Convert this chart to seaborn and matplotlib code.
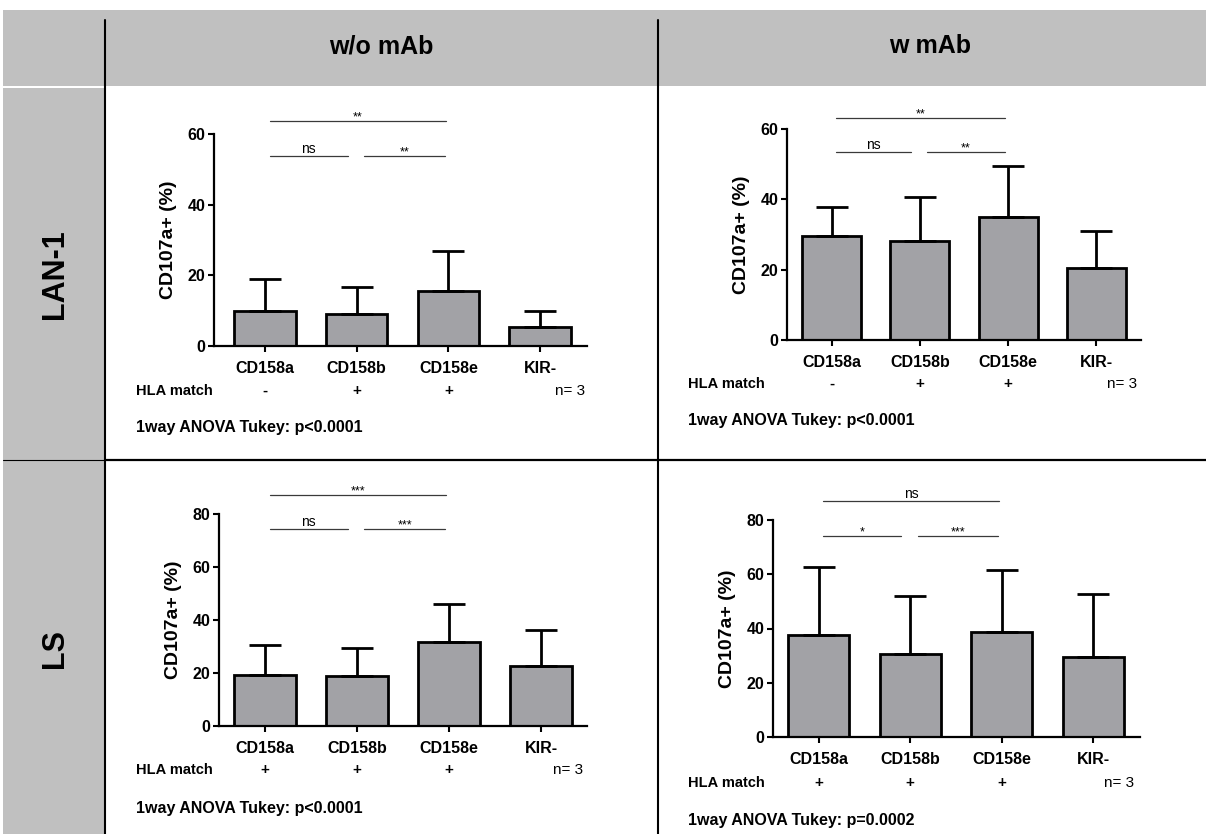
import numpy as np
import pandas as pd
import matplotlib
matplotlib.use("Agg")
import matplotlib.pyplot as plt
import seaborn as sns
from matplotlib.transforms import blended_transform_factory
from matplotlib.patches import Rectangle
from matplotlib.lines import Line2D

# ---------------- data ----------------
categories = ["CD158a", "CD158b", "CD158e", "KIR-"]
col_titles = ["w/o mAb", "w mAb"]
row_titles = ["LAN-1", "LS"]

lan1_wo_mean = [9.8, 9.0, 15.7, 5.5]
lan1_wo_sd = [9.2, 7.8, 11.3, 4.4]
lan1_w_mean = [29.5, 28.2, 34.9, 20.4]
lan1_w_sd = [8.4, 12.6, 14.6, 10.5]
ls_wo_mean = [19.4, 19.0, 31.6, 22.8]
ls_wo_sd = [11.3, 10.4, 14.4, 13.4]
ls_w_mean = [37.6, 30.7, 38.6, 29.5]
ls_w_sd = [24.9, 21.4, 23.1, 23.1]

lan1_hla = ["-", "+", "+"]
ls_hla = ["+", "+", "+"]

# significance labels: (CD158a vs CD158e, CD158a vs CD158b, CD158b vs CD158e)
lan1_wo_sig = ["**", "ns", "**"]
lan1_w_sig = ["**", "ns", "**"]
ls_wo_sig = ["***", "ns", "***"]
ls_w_sig = ["ns", "*", "***"]

anova_texts = ["1way ANOVA Tukey: p<0.0001", "1way ANOVA Tukey: p<0.0001",
               "1way ANOVA Tukey: p<0.0001", "1way ANOVA Tukey: p=0.0002"]
n_text = "n= 3"

# ---------------- style ----------------
sns.set_style("ticks")
plt.rcParams["font.family"] = ["Liberation Sans", "DejaVu Sans"]
plt.rcParams["text.color"] = "black"
plt.rcParams["axes.labelcolor"] = "black"
plt.rcParams["xtick.color"] = "black"
plt.rcParams["ytick.color"] = "black"
plt.rcParams["axes.edgecolor"] = "black"

W, H = 1206, 834
fig = plt.figure(figsize=(W / 100, H / 100), dpi=100)


def fx(x):
    return x / W


def fy(y):
    return 1 - y / H


GRAY_BG = "#c0c0c0"
BAR_GRAY = "#a2a2a6"

# table background
fig.add_artist(Rectangle((fx(3), fy(86)), fx(1206) - fx(3), fy(10) - fy(86),
                         transform=fig.transFigure, facecolor=GRAY_BG,
                         edgecolor="none", zorder=0))
fig.add_artist(Rectangle((fx(3), fy(834)), fx(104) - fx(3), fy(88) - fy(834),
                         transform=fig.transFigure, facecolor=GRAY_BG,
                         edgecolor="none", zorder=0))
# grid lines
for xv in (105, 658):
    fig.add_artist(Line2D([fx(xv), fx(xv)], [fy(20), fy(834)],
                          transform=fig.transFigure, color="black", lw=1.5))
fig.add_artist(Line2D([fx(3), fx(105)], [fy(460), fy(460)],
                      transform=fig.transFigure, color="black", lw=0.8))
fig.add_artist(Line2D([fx(105), fx(1206)], [fy(460), fy(460)],
                      transform=fig.transFigure, color="black", lw=1.6))

# headers
fig.text(fx(381), fy(46), col_titles[0], ha="center", va="center",
         fontsize=18, fontweight="bold", color="black")
fig.text(fx(930), fy(46), col_titles[1], ha="center", va="center",
         fontsize=18, fontweight="bold", color="black")
fig.text(fx(55), fy(274), row_titles[0], ha="center", va="center",
         rotation=90, fontsize=22, fontweight="bold", color="black")
fig.text(fx(55), fy(648), row_titles[1], ha="center", va="center",
         rotation=90, fontsize=22, fontweight="bold", color="black")

panels = [
    dict(rect=(214, 134, 587, 346), xlim=(-0.556, 3.51), ymax=60,
         mean=lan1_wo_mean, sd=lan1_wo_sd, hla=lan1_hla, sig=lan1_wo_sig,
         sig_y=(63.7, 53.7), hla_y=391, anova_y=427, text_x=136, n_x=585,
         anova=anova_texts[0]),
    dict(rect=(787, 129, 1141, 340), xlim=(-0.51, 3.51), ymax=60,
         mean=lan1_w_mean, sd=lan1_w_sd, hla=lan1_hla, sig=lan1_w_sig,
         sig_y=(63.0, 53.4), hla_y=384, anova_y=420, text_x=688, n_x=1137,
         anova=anova_texts[1]),
    dict(rect=(219, 514, 587, 726), xlim=(-0.5, 3.5), ymax=80,
         mean=ls_wo_mean, sd=ls_wo_sd, hla=ls_hla, sig=ls_wo_sig,
         sig_y=(87.0, 74.3), hla_y=770, anova_y=808, text_x=136, n_x=583,
         anova=anova_texts[2]),
    dict(rect=(773, 520, 1140, 737), xlim=(-0.5, 3.51), ymax=80,
         mean=ls_w_mean, sd=ls_w_sd, hla=ls_hla, sig=ls_w_sig,
         sig_y=(87.0, 74.2), hla_y=783, anova_y=821, text_x=688, n_x=1134,
         anova=anova_texts[3]),
]

for p in panels:
    l, t, r, b = p["rect"]
    ax = fig.add_axes([fx(l), fy(b), fx(r) - fx(l), fy(t) - fy(b)])
    ax.set_facecolor("none")
    df = pd.DataFrame({"cat": categories, "val": p["mean"]})
    sns.barplot(data=df, x="cat", y="val", ax=ax, color=BAR_GRAY,
                saturation=1, width=0.67, edgecolor="black", linewidth=2,
                errorbar=None, zorder=2)
    ax.errorbar(np.arange(len(categories)), p["mean"],
                yerr=[np.zeros(len(categories)), p["sd"]], fmt="none",
                ecolor="black", elinewidth=2, capsize=11.5, capthick=2,
                zorder=3)
    ax.set_xlim(*p["xlim"])
    ax.set_ylim(0, p["ymax"])
    yt = np.arange(0, p["ymax"] + 1, 20)
    ax.set_yticks(yt, labels=[str(v) for v in yt], fontweight="bold",
                  fontsize=11.5)
    ax.set_xticks(range(len(categories)), labels=categories,
                  fontweight="bold", fontsize=11.5)
    ax.tick_params(axis="both", direction="out", length=4, width=1.5,
                   color="black", labelcolor="black")
    ax.tick_params(axis="x", pad=7)
    ax.tick_params(axis="y", pad=2)
    ax.set_xlabel("")
    ax.set_ylabel("CD107a+ (%)", fontsize=14, fontweight="bold", labelpad=8,
                  color="black")
    for s in ("top", "right"):
        ax.spines[s].set_visible(False)
    for s in ("left", "bottom"):
        ax.spines[s].set_linewidth(1.6)
        ax.spines[s].set_color("black")
    ax.spines["left"].set_bounds(0, p["ymax"])

    # significance brackets
    top_y, low_y = p["sig_y"]
    spans = [(0.05, 1.97, top_y), (0.05, 0.9, low_y), (1.08, 1.96, low_y)]
    for lab, (x0, x1, yy) in zip(p["sig"], spans):
        ax.plot([x0, x1], [yy, yy], color="#3a3a3a", lw=0.9, clip_on=False)
        if lab == "ns":
            ax.annotate(lab, xy=((x0 + x1) / 2, yy), xytext=(0, 2.0),
                        textcoords="offset points", ha="center",
                        va="baseline", fontsize=10, color="black",
                        annotation_clip=False)
        else:
            ax.annotate(lab, xy=((x0 + x1) / 2, yy), xytext=(0, 0.5),
                        textcoords="offset points", ha="center",
                        va="baseline", fontsize=9, color="black",
                        annotation_clip=False)

    # HLA match row and notes
    bt = blended_transform_factory(ax.transData, fig.transFigure)
    fig.text(fx(p["text_x"]), fy(p["hla_y"]), "HLA match", ha="left",
             va="center", fontsize=10.5, fontweight="bold", color="black")
    for i, sgn in enumerate(p["hla"]):
        ax.text(i, fy(p["hla_y"]), sgn, transform=bt, ha="center",
                va="center", fontsize=11, fontweight="bold", color="black",
                clip_on=False)
    fig.text(fx(p["n_x"]), fy(p["hla_y"]), n_text, ha="right", va="center",
             fontsize=11, color="black")
    fig.text(fx(p["text_x"]), fy(p["anova_y"]), p["anova"], ha="left",
             va="center", fontsize=11.5, fontweight="bold", color="black")

fig.savefig("out.png", dpi=100)
